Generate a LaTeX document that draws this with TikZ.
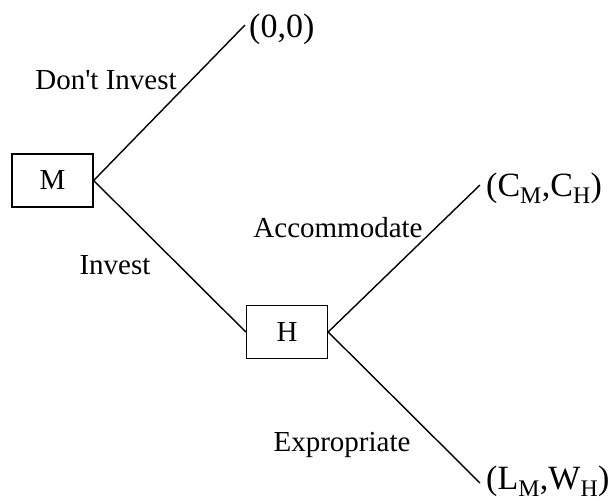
\documentclass[tikz,border=0pt]{standalone}
\usepackage{fontspec}
\setmainfont{Liberation Serif}
\begin{document}
\begin{tikzpicture}[x=1pt,y=-1pt,
  player/.style={draw,line width=1.3pt,minimum width=81pt,minimum height=53pt,inner sep=0pt,font=\fontsize{29}{34}\selectfont},
  movelabel/.style={inner sep=0pt,font=\fontsize{29}{34}\selectfont},
  payoff/.style={inner sep=0pt,anchor=west,font=\fontsize{34}{40}\selectfont},
  branch/.style={line width=1.4pt}]
\useasboundingbox (0,0) rectangle (614,499);
\node[player] (M) at (52.5,180.5) {M};
\node[player] (H) at (287,332) {H};
\coordinate (e1) at (245,25);
\coordinate (e2) at (480,185);
\coordinate (e3) at (480,483);
\node[payoff] (p1) at (249,29) {(0,0)};
\node[payoff] (p2) at (486,188) {(C\textsubscript{M},C\textsubscript{H})};
\node[payoff] (p3) at (486,481) {(L\textsubscript{M},W\textsubscript{H})};
\draw[branch] (M.east) -- (e1);
\draw[branch] (M.east) -- (H.west);
\draw[branch] (H.east) -- (e2);
\draw[branch] (H.east) -- (e3);
\node[movelabel] (l1) at (106,80) {Don\textquotesingle t Invest};
\node[movelabel] (l2) at (115,265) {Invest};
\node[movelabel] (l3) at (338,228) {Accommodate};
\node[movelabel] (l4) at (342,445) {Expropriate};
\end{tikzpicture}
\end{document}
